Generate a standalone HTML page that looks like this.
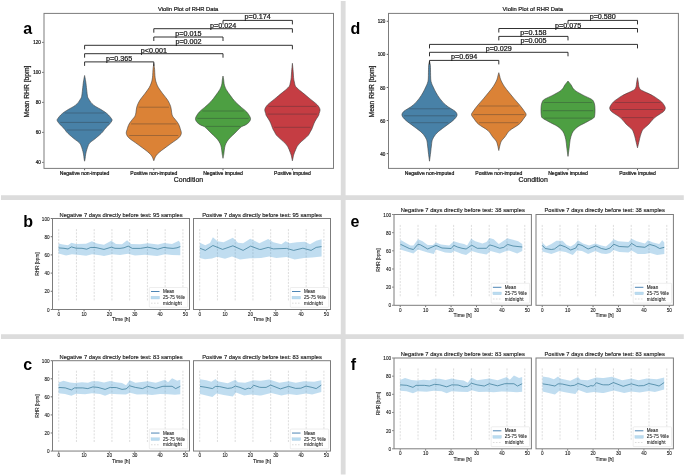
<!DOCTYPE html>
<html><head><meta charset="utf-8"><title>RHR figure</title>
<style>html,body{margin:0;padding:0;background:#fff;overflow:hidden;} svg{display:block;will-change:transform;} text{font-family:"Liberation Sans", sans-serif;}</style>
</head><body>
<svg width="685" height="475" viewBox="0 0 685 475" font-family='"Liberation Sans", sans-serif' fill="#1a1a1a">
<rect x="0" y="0" width="685" height="475" fill="#ffffff" />
<path d="M340.8,1 H345.6 V195.2 H683.8 V200.1 H345.6 V334.2 H683.8 V339 H345.6 V474.5 H340.8 V339 H1 V334.2 H340.8 V200.1 H1 V195.2 H340.8 Z" fill="#dcdcdc"/>
<path d="M84.6,75.5 C84.77,76.38 85.33,79.17 85.6,80.8 C85.87,82.43 86.02,83.77 86.2,85.3 C86.38,86.83 86.48,88.17 86.7,90 C86.92,91.83 87.22,94.88 87.5,96.3 C87.78,97.72 88,97.73 88.4,98.5 C88.8,99.27 89.3,100.03 89.9,100.9 C90.5,101.77 91.05,102.77 92,103.7 C92.95,104.63 94.17,105.57 95.6,106.5 C97.03,107.43 99.03,108.37 100.6,109.3 C102.17,110.23 103.68,111.15 105,112.1 C106.32,113.05 107.42,113.9 108.5,115 C109.58,116.1 110.92,117.77 111.5,118.7 C112.08,119.63 112.27,119.77 112,120.6 C111.73,121.43 110.72,122.72 109.9,123.7 C109.08,124.68 107.98,125.57 107.1,126.5 C106.22,127.43 105.37,128.37 104.6,129.3 C103.83,130.23 103.35,131.15 102.5,132.1 C101.65,133.05 100.55,134.05 99.5,135 C98.45,135.95 97.12,137.03 96.2,137.8 C95.28,138.57 95.07,138.77 94,139.6 C92.93,140.43 90.77,141.8 89.8,142.8 C88.83,143.8 88.68,144.52 88.2,145.6 C87.72,146.68 87.32,147.9 86.9,149.3 C86.48,150.7 86,152.43 85.7,154 C85.4,155.57 85.28,157.5 85.1,158.7 C84.92,159.9 84.68,160.78 84.6,161.2 C84.52,160.78 84.28,159.9 84.1,158.7 C83.92,157.5 83.8,155.57 83.5,154 C83.2,152.43 82.72,150.7 82.3,149.3 C81.88,147.9 81.48,146.68 81,145.6 C80.52,144.52 80.37,143.8 79.4,142.8 C78.43,141.8 76.27,140.43 75.2,139.6 C74.13,138.77 73.92,138.57 73,137.8 C72.08,137.03 70.75,135.95 69.7,135 C68.65,134.05 67.55,133.05 66.7,132.1 C65.85,131.15 65.37,130.23 64.6,129.3 C63.83,128.37 62.98,127.43 62.1,126.5 C61.22,125.57 60.12,124.68 59.3,123.7 C58.48,122.72 57.47,121.43 57.2,120.6 C56.93,119.77 57.12,119.63 57.7,118.7 C58.28,117.77 59.62,116.1 60.7,115 C61.78,113.9 62.88,113.05 64.2,112.1 C65.52,111.15 67.03,110.23 68.6,109.3 C70.17,108.37 72.17,107.43 73.6,106.5 C75.03,105.57 76.25,104.63 77.2,103.7 C78.15,102.77 78.7,101.77 79.3,100.9 C79.9,100.03 80.4,99.27 80.8,98.5 C81.2,97.73 81.42,97.72 81.7,96.3 C81.98,94.88 82.28,91.83 82.5,90 C82.72,88.17 82.82,86.83 83,85.3 C83.18,83.77 83.33,82.43 83.6,80.8 C83.87,79.17 84.43,76.38 84.6,75.5 Z" fill="#4881a7" stroke="#404040" stroke-width="0.6" stroke-linejoin="round"/>
<line x1="64.91" y1="113" x2="104.29" y2="113" stroke="#2a2f35" stroke-width="0.65" stroke-opacity="0.5"/>
<line x1="60.22" y1="122.4" x2="108.98" y2="122.4" stroke="#2a2f35" stroke-width="0.65" stroke-opacity="0.55"/>
<line x1="66.92" y1="130" x2="102.28" y2="130" stroke="#2a2f35" stroke-width="0.65" stroke-opacity="0.5"/>
<path d="M153.8,63.5 C153.93,64.48 154.42,67.43 154.6,69.4 C154.78,71.37 154.75,73.53 154.9,75.3 C155.05,77.07 155.22,78.62 155.5,80 C155.78,81.38 156.12,82.33 156.6,83.6 C157.08,84.87 157.35,85.88 158.4,87.6 C159.45,89.32 161.33,91.78 162.9,93.9 C164.47,96.02 166.5,98.18 167.8,100.3 C169.1,102.42 170.05,104.5 170.7,106.6 C171.35,108.7 171.37,111.28 171.7,112.9 C172.03,114.52 172.15,115.25 172.7,116.3 C173.25,117.35 174.18,118.15 175,119.2 C175.82,120.25 176.9,121.55 177.6,122.6 C178.3,123.65 178.75,124.45 179.2,125.5 C179.65,126.55 179.95,127.58 180.3,128.9 C180.65,130.22 181.55,131.92 181.3,133.4 C181.05,134.88 180.35,136.23 178.8,137.8 C177.25,139.37 174.3,141.12 172,142.8 C169.7,144.48 167.23,146.22 165,147.9 C162.77,149.58 160.17,151.47 158.6,152.9 C157.03,154.33 156.4,155.2 155.6,156.5 C154.8,157.8 154.1,160 153.8,160.7 C153.5,160 152.8,157.8 152,156.5 C151.2,155.2 150.57,154.33 149,152.9 C147.43,151.47 144.83,149.58 142.6,147.9 C140.37,146.22 137.9,144.48 135.6,142.8 C133.3,141.12 130.35,139.37 128.8,137.8 C127.25,136.23 126.55,134.88 126.3,133.4 C126.05,131.92 126.95,130.22 127.3,128.9 C127.65,127.58 127.95,126.55 128.4,125.5 C128.85,124.45 129.3,123.65 130,122.6 C130.7,121.55 131.78,120.25 132.6,119.2 C133.42,118.15 134.35,117.35 134.9,116.3 C135.45,115.25 135.57,114.52 135.9,112.9 C136.23,111.28 136.25,108.7 136.9,106.6 C137.55,104.5 138.5,102.42 139.8,100.3 C141.1,98.18 143.13,96.02 144.7,93.9 C146.27,91.78 148.15,89.32 149.2,87.6 C150.25,85.88 150.52,84.87 151,83.6 C151.48,82.33 151.82,81.38 152.1,80 C152.38,78.62 152.55,77.07 152.7,75.3 C152.85,73.53 152.82,71.37 153,69.4 C153.18,67.43 153.67,64.48 153.8,63.5 Z" fill="#db8236" stroke="#404040" stroke-width="0.6" stroke-linejoin="round"/>
<line x1="138.6" y1="107.2" x2="169" y2="107.2" stroke="#2a2f35" stroke-width="0.65" stroke-opacity="0.5"/>
<line x1="131.08" y1="123.9" x2="176.52" y2="123.9" stroke="#2a2f35" stroke-width="0.65" stroke-opacity="0.55"/>
<line x1="129.29" y1="135.5" x2="178.31" y2="135.5" stroke="#2a2f35" stroke-width="0.65" stroke-opacity="0.5"/>
<path d="M223,76 C223.12,76.67 223.52,78.7 223.7,80 C223.88,81.3 223.9,82.72 224.1,83.8 C224.3,84.88 224.53,85.52 224.9,86.5 C225.27,87.48 225.38,88.18 226.3,89.7 C227.22,91.22 228.95,93.63 230.4,95.6 C231.85,97.57 233.17,99.53 235,101.5 C236.83,103.47 239.43,105.63 241.4,107.4 C243.37,109.17 245.28,110.28 246.8,112.1 C248.32,113.92 250.17,116.57 250.5,118.3 C250.83,120.03 249.72,121.35 248.8,122.5 C247.88,123.65 246.22,124.5 245,125.2 C243.78,125.9 242.83,125.75 241.5,126.7 C240.17,127.65 238.47,129.48 237,130.9 C235.53,132.32 234.12,133.78 232.7,135.2 C231.28,136.62 229.63,138 228.5,139.4 C227.37,140.8 226.55,142.2 225.9,143.6 C225.25,145 224.95,146.05 224.6,147.8 C224.25,149.55 224.07,152.35 223.8,154.1 C223.53,155.85 223.13,157.6 223,158.3 C222.87,157.6 222.47,155.85 222.2,154.1 C221.93,152.35 221.75,149.55 221.4,147.8 C221.05,146.05 220.75,145 220.1,143.6 C219.45,142.2 218.63,140.8 217.5,139.4 C216.37,138 214.72,136.62 213.3,135.2 C211.88,133.78 210.47,132.32 209,130.9 C207.53,129.48 205.83,127.65 204.5,126.7 C203.17,125.75 202.22,125.9 201,125.2 C199.78,124.5 198.12,123.65 197.2,122.5 C196.28,121.35 195.17,120.03 195.5,118.3 C195.83,116.57 197.68,113.92 199.2,112.1 C200.72,110.28 202.63,109.17 204.6,107.4 C206.57,105.63 209.17,103.47 211,101.5 C212.83,99.53 214.15,97.57 215.6,95.6 C217.05,93.63 218.78,91.22 219.7,89.7 C220.62,88.18 220.73,87.48 221.1,86.5 C221.47,85.52 221.7,84.88 221.9,83.8 C222.1,82.72 222.12,81.3 222.3,80 C222.48,78.7 222.88,76.67 223,76 Z" fill="#4d9f42" stroke="#404040" stroke-width="0.6" stroke-linejoin="round"/>
<line x1="202.26" y1="111" x2="243.74" y2="111" stroke="#2a2f35" stroke-width="0.65" stroke-opacity="0.5"/>
<line x1="197.34" y1="118.4" x2="248.66" y2="118.4" stroke="#2a2f35" stroke-width="0.65" stroke-opacity="0.55"/>
<line x1="205.6" y1="126.4" x2="240.4" y2="126.4" stroke="#2a2f35" stroke-width="0.65" stroke-opacity="0.5"/>
<path d="M292.4,63.3 C292.53,64.72 293,69.4 293.2,71.8 C293.4,74.2 293.45,76.17 293.6,77.7 C293.75,79.23 293.92,80.02 294.1,81 C294.28,81.98 294.47,82.72 294.7,83.6 C294.93,84.48 294.83,85.32 295.5,86.3 C296.17,87.28 297.53,88.45 298.7,89.5 C299.87,90.55 300.6,91.03 302.5,92.6 C304.4,94.17 307.65,96.87 310.1,98.9 C312.55,100.93 315.55,103.03 317.2,104.8 C318.85,106.57 319.7,108 320,109.5 C320.3,111 319.23,112.82 319,113.8 C318.77,114.78 319.3,114.08 318.6,115.4 C317.9,116.72 315.92,119.45 314.8,121.7 C313.68,123.95 312.67,127.18 311.9,128.9 C311.13,130.62 310.8,130.93 310.2,132 C309.6,133.07 309.18,134.22 308.3,135.3 C307.42,136.38 306.05,137.45 304.9,138.5 C303.75,139.55 302.48,140.55 301.4,141.6 C300.32,142.65 299.23,143.75 298.4,144.8 C297.57,145.85 297.15,146.33 296.4,147.9 C295.65,149.47 294.45,152.6 293.9,154.2 C293.35,155.8 293.35,156.4 293.1,157.5 C292.85,158.6 292.52,160.25 292.4,160.8 C292.28,160.25 291.95,158.6 291.7,157.5 C291.45,156.4 291.45,155.8 290.9,154.2 C290.35,152.6 289.15,149.47 288.4,147.9 C287.65,146.33 287.23,145.85 286.4,144.8 C285.57,143.75 284.48,142.65 283.4,141.6 C282.32,140.55 281.05,139.55 279.9,138.5 C278.75,137.45 277.38,136.38 276.5,135.3 C275.62,134.22 275.2,133.07 274.6,132 C274,130.93 273.67,130.62 272.9,128.9 C272.13,127.18 271.12,123.95 270,121.7 C268.88,119.45 266.9,116.72 266.2,115.4 C265.5,114.08 266.03,114.78 265.8,113.8 C265.57,112.82 264.5,111 264.8,109.5 C265.1,108 265.95,106.57 267.6,104.8 C269.25,103.03 272.25,100.93 274.7,98.9 C277.15,96.87 280.4,94.17 282.3,92.6 C284.2,91.03 284.93,90.55 286.1,89.5 C287.27,88.45 288.63,87.28 289.3,86.3 C289.97,85.32 289.87,84.48 290.1,83.6 C290.33,82.72 290.52,81.98 290.7,81 C290.88,80.02 291.05,79.23 291.2,77.7 C291.35,76.17 291.4,74.2 291.6,71.8 C291.8,69.4 292.27,64.72 292.4,63.3 Z" fill="#c53d43" stroke="#404040" stroke-width="0.6" stroke-linejoin="round"/>
<line x1="268.45" y1="106.4" x2="316.35" y2="106.4" stroke="#2a2f35" stroke-width="0.65" stroke-opacity="0.5"/>
<line x1="267.67" y1="114.1" x2="317.12" y2="114.1" stroke="#2a2f35" stroke-width="0.65" stroke-opacity="0.55"/>
<line x1="274.06" y1="127.3" x2="310.74" y2="127.3" stroke="#2a2f35" stroke-width="0.65" stroke-opacity="0.5"/>
<rect x="44" y="13.4" width="289.5" height="155" fill="none" stroke="#7c7c7c" stroke-width="1" />
<line x1="42.2" y1="162.4" x2="43.5" y2="162.4" stroke="#333333" stroke-width="0.8" />
<text x="40.8" y="164" font-size="5" text-anchor="end" stroke="#1a1a1a" stroke-width="0.22" textLength="5.1" lengthAdjust="spacingAndGlyphs">40</text>
<line x1="42.2" y1="132.4" x2="43.5" y2="132.4" stroke="#333333" stroke-width="0.8" />
<text x="40.8" y="134" font-size="5" text-anchor="end" stroke="#1a1a1a" stroke-width="0.22" textLength="5.1" lengthAdjust="spacingAndGlyphs">60</text>
<line x1="42.2" y1="102.4" x2="43.5" y2="102.4" stroke="#333333" stroke-width="0.8" />
<text x="40.8" y="104" font-size="5" text-anchor="end" stroke="#1a1a1a" stroke-width="0.22" textLength="5.1" lengthAdjust="spacingAndGlyphs">80</text>
<line x1="42.2" y1="72.4" x2="43.5" y2="72.4" stroke="#333333" stroke-width="0.8" />
<text x="40.8" y="74" font-size="5" text-anchor="end" stroke="#1a1a1a" stroke-width="0.22" textLength="7.6" lengthAdjust="spacingAndGlyphs">100</text>
<line x1="42.2" y1="42.4" x2="43.5" y2="42.4" stroke="#333333" stroke-width="0.8" />
<text x="40.8" y="44" font-size="5" text-anchor="end" stroke="#1a1a1a" stroke-width="0.22" textLength="7.6" lengthAdjust="spacingAndGlyphs">120</text>
<line x1="84.6" y1="168.9" x2="84.6" y2="170.2" stroke="#333333" stroke-width="0.8" />
<text x="84.6" y="174.7" font-size="4.8" text-anchor="middle" stroke="#1a1a1a" stroke-width="0.22" textLength="49.5" lengthAdjust="spacingAndGlyphs">Negative non-imputed</text>
<line x1="153.8" y1="168.9" x2="153.8" y2="170.2" stroke="#333333" stroke-width="0.8" />
<text x="153.8" y="174.7" font-size="4.8" text-anchor="middle" stroke="#1a1a1a" stroke-width="0.22" textLength="47" lengthAdjust="spacingAndGlyphs">Positive non-imputed</text>
<line x1="223" y1="168.9" x2="223" y2="170.2" stroke="#333333" stroke-width="0.8" />
<text x="223" y="174.7" font-size="4.8" text-anchor="middle" stroke="#1a1a1a" stroke-width="0.22" textLength="39.7" lengthAdjust="spacingAndGlyphs">Negative imputed</text>
<line x1="292.4" y1="168.9" x2="292.4" y2="170.2" stroke="#333333" stroke-width="0.8" />
<text x="292.4" y="174.7" font-size="4.8" text-anchor="middle" stroke="#1a1a1a" stroke-width="0.22" textLength="36.7" lengthAdjust="spacingAndGlyphs">Positive imputed</text>
<text x="188.45" y="181.9" font-size="6.8" text-anchor="middle" stroke="#1a1a1a" stroke-width="0.22" textLength="29.3" lengthAdjust="spacingAndGlyphs">Condition</text>
<text x="188.1" y="10.9" font-size="6" text-anchor="middle" stroke="#1a1a1a" stroke-width="0.22" textLength="60.4" lengthAdjust="spacingAndGlyphs">Violin Plot of RHR Data</text>
<text x="29.2" y="91.5" font-size="6.6" text-anchor="middle" stroke="#1a1a1a" stroke-width="0.22" textLength="51.9" lengthAdjust="spacingAndGlyphs" transform="rotate(-90 29.2 91.5)">Mean RHR [bpm]</text>
<path d="M223,24.4 L223,20.4 L292.4,20.4 L292.4,24.4" fill="none" stroke="#262626" stroke-width="0.95"/>
<text x="257.7" y="19.4" font-size="6.3" text-anchor="middle" stroke="#1a1a1a" stroke-width="0.22" textLength="26.2" lengthAdjust="spacingAndGlyphs">p=0.174</text>
<path d="M153.8,32.7 L153.8,28.7 L292.4,28.7 L292.4,32.7" fill="none" stroke="#262626" stroke-width="0.95"/>
<text x="223.1" y="27.7" font-size="6.3" text-anchor="middle" stroke="#1a1a1a" stroke-width="0.22" textLength="26.2" lengthAdjust="spacingAndGlyphs">p=0.024</text>
<path d="M153.8,41 L153.8,37 L223,37 L223,41" fill="none" stroke="#262626" stroke-width="0.95"/>
<text x="188.4" y="36" font-size="6.3" text-anchor="middle" stroke="#1a1a1a" stroke-width="0.22" textLength="26.2" lengthAdjust="spacingAndGlyphs">p=0.015</text>
<path d="M84.6,49.3 L84.6,45.3 L292.4,45.3 L292.4,49.3" fill="none" stroke="#262626" stroke-width="0.95"/>
<text x="188.5" y="44.3" font-size="6.3" text-anchor="middle" stroke="#1a1a1a" stroke-width="0.22" textLength="26.2" lengthAdjust="spacingAndGlyphs">p=0.002</text>
<path d="M84.6,57.7 L84.6,53.7 L223,53.7 L223,57.7" fill="none" stroke="#262626" stroke-width="0.95"/>
<text x="153.8" y="52.7" font-size="6.3" text-anchor="middle" stroke="#1a1a1a" stroke-width="0.22" textLength="26.2" lengthAdjust="spacingAndGlyphs">p&lt;0.001</text>
<path d="M84.6,65.9 L84.6,61.9 L153.8,61.9 L153.8,65.9" fill="none" stroke="#262626" stroke-width="0.95"/>
<text x="119.2" y="60.9" font-size="6.3" text-anchor="middle" stroke="#1a1a1a" stroke-width="0.22" textLength="26.2" lengthAdjust="spacingAndGlyphs">p=0.365</text>
<text x="23.3" y="33.6" font-size="16" fill="#000" font-weight="bold">a</text>
<path d="M429.5,61 C429.63,61.68 430.13,63.63 430.3,65.1 C430.47,66.57 430.45,68.03 430.5,69.8 C430.55,71.57 430.55,74 430.6,75.7 C430.65,77.4 430.65,78.78 430.8,80 C430.95,81.22 431.15,81.95 431.5,83 C431.85,84.05 432.15,84.7 432.9,86.3 C433.65,87.9 434.8,90.5 436,92.6 C437.2,94.7 438.43,96.78 440.1,98.9 C441.77,101.02 444.13,103.65 446,105.3 C447.87,106.95 449.73,107.75 451.3,108.8 C452.87,109.85 454.45,110.5 455.4,111.6 C456.35,112.7 457.38,113.93 457,115.4 C456.62,116.87 455.13,118.52 453.1,120.4 C451.07,122.28 447.5,124.6 444.8,126.7 C442.1,128.8 438.93,130.9 436.9,133 C434.87,135.1 433.5,137.3 432.6,139.3 C431.7,141.3 431.82,142.88 431.5,145 C431.18,147.12 431.03,149.3 430.7,152 C430.37,154.7 429.7,159.67 429.5,161.2 C429.3,159.67 428.63,154.7 428.3,152 C427.97,149.3 427.82,147.12 427.5,145 C427.18,142.88 427.3,141.3 426.4,139.3 C425.5,137.3 424.13,135.1 422.1,133 C420.07,130.9 416.9,128.8 414.2,126.7 C411.5,124.6 407.93,122.28 405.9,120.4 C403.87,118.52 402.38,116.87 402,115.4 C401.62,113.93 402.65,112.7 403.6,111.6 C404.55,110.5 406.13,109.85 407.7,108.8 C409.27,107.75 411.13,106.95 413,105.3 C414.87,103.65 417.23,101.02 418.9,98.9 C420.57,96.78 421.8,94.7 423,92.6 C424.2,90.5 425.35,87.9 426.1,86.3 C426.85,84.7 427.15,84.05 427.5,83 C427.85,81.95 428.05,81.22 428.2,80 C428.35,78.78 428.35,77.4 428.4,75.7 C428.45,74 428.45,71.57 428.5,69.8 C428.55,68.03 428.53,66.57 428.7,65.1 C428.87,63.63 429.37,61.68 429.5,61 Z" fill="#4881a7" stroke="#404040" stroke-width="0.6" stroke-linejoin="round"/>
<line x1="409.5" y1="108.8" x2="449.5" y2="108.8" stroke="#2a2f35" stroke-width="0.65" stroke-opacity="0.5"/>
<line x1="404.11" y1="115.8" x2="454.89" y2="115.8" stroke="#2a2f35" stroke-width="0.65" stroke-opacity="0.55"/>
<line x1="410.73" y1="122.7" x2="448.27" y2="122.7" stroke="#2a2f35" stroke-width="0.65" stroke-opacity="0.5"/>
<path d="M498.8,72.7 C498.95,73.25 499.37,74.78 499.7,76 C500.03,77.22 500.05,78.28 500.8,80 C501.55,81.72 502.82,84.2 504.2,86.3 C505.58,88.4 507.42,90.5 509.1,92.6 C510.78,94.7 512.5,96.78 514.3,98.9 C516.1,101.02 518.18,103.18 519.9,105.3 C521.62,107.42 523.57,110.03 524.6,111.6 C525.63,113.17 526.17,113.65 526.1,114.7 C526.03,115.75 525.37,116.32 524.2,117.9 C523.03,119.48 521.52,122.1 519.1,124.2 C516.68,126.3 512.05,128.4 509.7,130.5 C507.35,132.6 506.38,135.05 505,136.8 C503.62,138.55 502.23,139.63 501.4,141 C500.57,142.37 500.43,143.42 500,145 C499.57,146.58 499,149.58 498.8,150.5 C498.6,149.58 498.03,146.58 497.6,145 C497.17,143.42 497.03,142.37 496.2,141 C495.37,139.63 493.98,138.55 492.6,136.8 C491.22,135.05 490.25,132.6 487.9,130.5 C485.55,128.4 480.92,126.3 478.5,124.2 C476.08,122.1 474.57,119.48 473.4,117.9 C472.23,116.32 471.57,115.75 471.5,114.7 C471.43,113.65 471.97,113.17 473,111.6 C474.03,110.03 475.98,107.42 477.7,105.3 C479.42,103.18 481.5,101.02 483.3,98.9 C485.1,96.78 486.82,94.7 488.5,92.6 C490.18,90.5 492.02,88.4 493.4,86.3 C494.78,84.2 496.05,81.72 496.8,80 C497.55,78.28 497.57,77.22 497.9,76 C498.23,74.78 498.65,73.25 498.8,72.7 Z" fill="#db8236" stroke="#404040" stroke-width="0.6" stroke-linejoin="round"/>
<line x1="478.98" y1="106" x2="518.62" y2="106" stroke="#2a2f35" stroke-width="0.65" stroke-opacity="0.5"/>
<line x1="473.35" y1="114.6" x2="524.25" y2="114.6" stroke="#2a2f35" stroke-width="0.65" stroke-opacity="0.55"/>
<line x1="479.09" y1="122.7" x2="518.51" y2="122.7" stroke="#2a2f35" stroke-width="0.65" stroke-opacity="0.5"/>
<path d="M568,81 C568.2,81.25 568.7,81.87 569.2,82.5 C569.7,83.13 570.12,83.55 571,84.8 C571.88,86.05 572.63,88.35 574.5,90 C576.37,91.65 579.37,93.15 582.2,94.7 C585.03,96.25 589.57,98.08 591.5,99.3 C593.43,100.52 593.25,100.88 593.8,102 C594.35,103.12 594.6,104.45 594.8,106 C595,107.55 595.03,109.63 595,111.3 C594.97,112.97 594.83,114.88 594.6,116 C594.37,117.12 594.4,117.28 593.6,118 C592.8,118.72 591.17,119.52 589.8,120.3 C588.43,121.08 586.9,121.92 585.4,122.7 C583.9,123.48 582.2,124.22 580.8,125 C579.4,125.78 578.08,126.57 577,127.4 C575.92,128.23 575.13,128.98 574.3,130 C573.47,131.02 572.68,131.9 572,133.5 C571.32,135.1 570.68,137.12 570.2,139.6 C569.72,142.08 569.47,145.6 569.1,148.4 C568.73,151.2 568.18,155.07 568,156.4 C567.82,155.07 567.27,151.2 566.9,148.4 C566.53,145.6 566.28,142.08 565.8,139.6 C565.32,137.12 564.68,135.1 564,133.5 C563.32,131.9 562.53,131.02 561.7,130 C560.87,128.98 560.08,128.23 559,127.4 C557.92,126.57 556.6,125.78 555.2,125 C553.8,124.22 552.1,123.48 550.6,122.7 C549.1,121.92 547.57,121.08 546.2,120.3 C544.83,119.52 543.2,118.72 542.4,118 C541.6,117.28 541.63,117.12 541.4,116 C541.17,114.88 541.03,112.97 541,111.3 C540.97,109.63 541,107.55 541.2,106 C541.4,104.45 541.65,103.12 542.2,102 C542.75,100.88 542.57,100.52 544.5,99.3 C546.43,98.08 550.97,96.25 553.8,94.7 C556.63,93.15 559.63,91.65 561.5,90 C563.37,88.35 564.12,86.05 565,84.8 C565.88,83.55 566.3,83.13 566.8,82.5 C567.3,81.87 567.8,81.25 568,81 Z" fill="#4d9f42" stroke="#404040" stroke-width="0.6" stroke-linejoin="round"/>
<line x1="543.88" y1="102.5" x2="592.12" y2="102.5" stroke="#2a2f35" stroke-width="0.65" stroke-opacity="0.5"/>
<line x1="542.82" y1="110.7" x2="593.18" y2="110.7" stroke="#2a2f35" stroke-width="0.65" stroke-opacity="0.55"/>
<line x1="544.37" y1="118.1" x2="591.63" y2="118.1" stroke="#2a2f35" stroke-width="0.65" stroke-opacity="0.5"/>
<path d="M637.5,77.7 C637.65,78.55 638.18,81.37 638.4,82.8 C638.62,84.23 638.62,85.43 638.8,86.3 C638.98,87.17 639.25,87.47 639.5,88 C639.75,88.53 639.72,89 640.3,89.5 C640.88,90 641.98,90.48 643,91 C644.02,91.52 644.82,91.85 646.4,92.6 C647.98,93.35 650.62,94.45 652.5,95.5 C654.38,96.55 656.17,97.82 657.7,98.9 C659.23,99.98 660.62,100.93 661.7,102 C662.78,103.07 663.6,104.23 664.2,105.3 C664.8,106.37 665.42,107.35 665.3,108.4 C665.18,109.45 664.38,110.67 663.5,111.6 C662.62,112.53 661.23,113.17 660,114 C658.77,114.83 657.45,115.53 656.1,116.6 C654.75,117.67 653.12,119.13 651.9,120.4 C650.68,121.67 649.9,123.05 648.8,124.2 C647.7,125.35 646.38,126.25 645.3,127.3 C644.22,128.35 643.17,128.92 642.3,130.5 C641.43,132.08 640.63,135.05 640.1,136.8 C639.57,138.55 639.53,139.17 639.1,141 C638.67,142.83 637.77,146.67 637.5,147.8 C637.23,146.67 636.33,142.83 635.9,141 C635.47,139.17 635.43,138.55 634.9,136.8 C634.37,135.05 633.57,132.08 632.7,130.5 C631.83,128.92 630.78,128.35 629.7,127.3 C628.62,126.25 627.3,125.35 626.2,124.2 C625.1,123.05 624.32,121.67 623.1,120.4 C621.88,119.13 620.25,117.67 618.9,116.6 C617.55,115.53 616.23,114.83 615,114 C613.77,113.17 612.38,112.53 611.5,111.6 C610.62,110.67 609.82,109.45 609.7,108.4 C609.58,107.35 610.2,106.37 610.8,105.3 C611.4,104.23 612.22,103.07 613.3,102 C614.38,100.93 615.77,99.98 617.3,98.9 C618.83,97.82 620.62,96.55 622.5,95.5 C624.38,94.45 627.02,93.35 628.6,92.6 C630.18,91.85 630.98,91.52 632,91 C633.02,90.48 634.12,90 634.7,89.5 C635.28,89 635.25,88.53 635.5,88 C635.75,87.47 636.02,87.17 636.2,86.3 C636.38,85.43 636.38,84.23 636.6,82.8 C636.82,81.37 637.35,78.55 637.5,77.7 Z" fill="#c53d43" stroke="#404040" stroke-width="0.6" stroke-linejoin="round"/>
<line x1="614.72" y1="102.5" x2="660.28" y2="102.5" stroke="#2a2f35" stroke-width="0.65" stroke-opacity="0.5"/>
<line x1="612.12" y1="109.5" x2="662.88" y2="109.5" stroke="#2a2f35" stroke-width="0.65" stroke-opacity="0.55"/>
<line x1="621.81" y1="117.6" x2="653.19" y2="117.6" stroke="#2a2f35" stroke-width="0.65" stroke-opacity="0.5"/>
<rect x="388.5" y="13.4" width="289.9" height="155" fill="none" stroke="#7c7c7c" stroke-width="1" />
<line x1="386.7" y1="153.6" x2="388" y2="153.6" stroke="#333333" stroke-width="0.8" />
<text x="385.3" y="155.7" font-size="5" text-anchor="end" stroke="#1a1a1a" stroke-width="0.22" textLength="5.1" lengthAdjust="spacingAndGlyphs">40</text>
<line x1="386.7" y1="120.52" x2="388" y2="120.52" stroke="#333333" stroke-width="0.8" />
<text x="385.3" y="122.62" font-size="5" text-anchor="end" stroke="#1a1a1a" stroke-width="0.22" textLength="5.1" lengthAdjust="spacingAndGlyphs">60</text>
<line x1="386.7" y1="87.44" x2="388" y2="87.44" stroke="#333333" stroke-width="0.8" />
<text x="385.3" y="89.54" font-size="5" text-anchor="end" stroke="#1a1a1a" stroke-width="0.22" textLength="5.1" lengthAdjust="spacingAndGlyphs">80</text>
<line x1="386.7" y1="54.36" x2="388" y2="54.36" stroke="#333333" stroke-width="0.8" />
<text x="385.3" y="56.46" font-size="5" text-anchor="end" stroke="#1a1a1a" stroke-width="0.22" textLength="7.6" lengthAdjust="spacingAndGlyphs">100</text>
<line x1="386.7" y1="21.28" x2="388" y2="21.28" stroke="#333333" stroke-width="0.8" />
<text x="385.3" y="23.38" font-size="5" text-anchor="end" stroke="#1a1a1a" stroke-width="0.22" textLength="7.6" lengthAdjust="spacingAndGlyphs">120</text>
<line x1="429.5" y1="168.9" x2="429.5" y2="170.2" stroke="#333333" stroke-width="0.8" />
<text x="429.5" y="174.7" font-size="4.8" text-anchor="middle" stroke="#1a1a1a" stroke-width="0.22" textLength="49.5" lengthAdjust="spacingAndGlyphs">Negative non-imputed</text>
<line x1="498.8" y1="168.9" x2="498.8" y2="170.2" stroke="#333333" stroke-width="0.8" />
<text x="498.8" y="174.7" font-size="4.8" text-anchor="middle" stroke="#1a1a1a" stroke-width="0.22" textLength="47" lengthAdjust="spacingAndGlyphs">Positive non-imputed</text>
<line x1="568" y1="168.9" x2="568" y2="170.2" stroke="#333333" stroke-width="0.8" />
<text x="568" y="174.7" font-size="4.8" text-anchor="middle" stroke="#1a1a1a" stroke-width="0.22" textLength="39.7" lengthAdjust="spacingAndGlyphs">Negative imputed</text>
<line x1="637.5" y1="168.9" x2="637.5" y2="170.2" stroke="#333333" stroke-width="0.8" />
<text x="637.5" y="174.7" font-size="4.8" text-anchor="middle" stroke="#1a1a1a" stroke-width="0.22" textLength="36.7" lengthAdjust="spacingAndGlyphs">Positive imputed</text>
<text x="533.15" y="181.9" font-size="6.8" text-anchor="middle" stroke="#1a1a1a" stroke-width="0.22" textLength="29.3" lengthAdjust="spacingAndGlyphs">Condition</text>
<text x="532.8" y="10.9" font-size="6" text-anchor="middle" stroke="#1a1a1a" stroke-width="0.22" textLength="60.4" lengthAdjust="spacingAndGlyphs">Violin Plot of RHR Data</text>
<text x="373.9" y="91.5" font-size="6.6" text-anchor="middle" stroke="#1a1a1a" stroke-width="0.22" textLength="51.9" lengthAdjust="spacingAndGlyphs" transform="rotate(-90 373.9 91.5)">Mean RHR [bpm]</text>
<path d="M568,24.4 L568,20.4 L637.5,20.4 L637.5,24.4" fill="none" stroke="#262626" stroke-width="0.95"/>
<text x="602.75" y="19.4" font-size="6.3" text-anchor="middle" stroke="#1a1a1a" stroke-width="0.22" textLength="26.2" lengthAdjust="spacingAndGlyphs">p=0.580</text>
<path d="M498.8,32.5 L498.8,28.5 L637.5,28.5 L637.5,32.5" fill="none" stroke="#262626" stroke-width="0.95"/>
<text x="568.15" y="27.5" font-size="6.3" text-anchor="middle" stroke="#1a1a1a" stroke-width="0.22" textLength="26.2" lengthAdjust="spacingAndGlyphs">p=0.075</text>
<path d="M498.8,40.4 L498.8,36.4 L568,36.4 L568,40.4" fill="none" stroke="#262626" stroke-width="0.95"/>
<text x="533.4" y="35.4" font-size="6.3" text-anchor="middle" stroke="#1a1a1a" stroke-width="0.22" textLength="26.2" lengthAdjust="spacingAndGlyphs">p=0.158</text>
<path d="M429.5,48.4 L429.5,44.4 L637.5,44.4 L637.5,48.4" fill="none" stroke="#262626" stroke-width="0.95"/>
<text x="533.5" y="43.4" font-size="6.3" text-anchor="middle" stroke="#1a1a1a" stroke-width="0.22" textLength="26.2" lengthAdjust="spacingAndGlyphs">p=0.005</text>
<path d="M429.5,56.3 L429.5,52.3 L568,52.3 L568,56.3" fill="none" stroke="#262626" stroke-width="0.95"/>
<text x="498.75" y="51.3" font-size="6.3" text-anchor="middle" stroke="#1a1a1a" stroke-width="0.22" textLength="26.2" lengthAdjust="spacingAndGlyphs">p=0.029</text>
<path d="M429.5,64.4 L429.5,60.4 L498.8,60.4 L498.8,64.4" fill="none" stroke="#262626" stroke-width="0.95"/>
<text x="464.15" y="59.4" font-size="6.3" text-anchor="middle" stroke="#1a1a1a" stroke-width="0.22" textLength="26.2" lengthAdjust="spacingAndGlyphs">p=0.694</text>
<text x="350.5" y="33.7" font-size="16" fill="#000" font-weight="bold">d</text>
<line x1="58.71" y1="300.4" x2="58.71" y2="228.06" stroke="#c6c6c6" stroke-width="0.6" stroke-dasharray="2,1.3"/>
<line x1="76.45" y1="300.4" x2="76.45" y2="228.06" stroke="#c6c6c6" stroke-width="0.6" stroke-dasharray="2,1.3"/>
<line x1="94.2" y1="300.4" x2="94.2" y2="228.06" stroke="#c6c6c6" stroke-width="0.6" stroke-dasharray="2,1.3"/>
<line x1="111.94" y1="300.4" x2="111.94" y2="228.06" stroke="#c6c6c6" stroke-width="0.6" stroke-dasharray="2,1.3"/>
<line x1="129.68" y1="300.4" x2="129.68" y2="228.06" stroke="#c6c6c6" stroke-width="0.6" stroke-dasharray="2,1.3"/>
<line x1="147.42" y1="300.4" x2="147.42" y2="228.06" stroke="#c6c6c6" stroke-width="0.6" stroke-dasharray="2,1.3"/>
<line x1="165.17" y1="300.4" x2="165.17" y2="228.06" stroke="#c6c6c6" stroke-width="0.6" stroke-dasharray="2,1.3"/>
<line x1="182.91" y1="300.4" x2="182.91" y2="228.06" stroke="#c6c6c6" stroke-width="0.6" stroke-dasharray="2,1.3"/>
<polygon points="58.6,243.5 63,244.5 68,245.2 71.4,242.8 76,244 86,243.8 91.9,241.2 97,243.5 104,244.8 111.3,240.7 116,244 122,244.3 127.1,240.2 131,244 140,244.2 148,243.3 158,244.5 164,243 172,244 178.8,240.7 180.3,243 180.3,255.3 172,255 165,254.3 157,256 145,254.8 135,255.4 128,253.8 120,255 112,254.3 104,256.1 100,255.3 92,254.2 86,255.8 80,255 72,254.3 66,255.4 58.6,253.6" fill="#1683c8" fill-opacity="0.27"/>
<polyline points="58.6,247.9 64,248.3 68,249 71.4,246.9 76,248.2 82,248.3 86.7,249.2 90.8,247.4 96,247.6 100,248.5 104,249.4 108,248.2 111.3,247.2 115,248.3 120,248.4 124,247.8 128.2,246.1 132.3,248.4 136,248.4 140.4,248.4 144,247.8 147.6,247.2 152,248 157.8,249.2 163.9,247.4 168,248 173.1,248.4 177,247.8 180.3,246.6" fill="none" stroke="#3a7b98" stroke-width="0.75" stroke-linejoin="round"/>
<rect x="149.3" y="287.5" width="38.4" height="19.8" fill="#ffffff" stroke="#dddddd" stroke-width="0.5" fill-opacity="0.85" rx="0.8"/>
<line x1="151" y1="291.5" x2="159.5" y2="291.5" stroke="#3a78ad" stroke-width="0.9" />
<rect x="151" y="296.2" width="8.5" height="2.8" fill="#badcf0" stroke="#a9c8e0" stroke-width="0.3" />
<line x1="151" y1="303.2" x2="159.5" y2="303.2" stroke="#c6c6c6" stroke-width="0.6" stroke-dasharray="1.6,1.4"/>
<text x="162.9" y="293.1" font-size="4.6" stroke="#1a1a1a" stroke-width="0.08" textLength="11.4" lengthAdjust="spacing">Mean</text>
<text x="162.9" y="299.1" font-size="4.6" stroke="#1a1a1a" stroke-width="0.08" textLength="22.2" lengthAdjust="spacing">25-75 %ile</text>
<text x="162.9" y="304.8" font-size="4.6" stroke="#1a1a1a" stroke-width="0.08" textLength="18.8" lengthAdjust="spacing">midnight</text>
<rect x="52.5" y="218.5" width="137" height="91" fill="none" stroke="#7c7c7c" stroke-width="1" />
<line x1="58.71" y1="310" x2="58.71" y2="311.3" stroke="#333333" stroke-width="0.7" />
<text x="58.71" y="315.9" font-size="4.7" text-anchor="middle" stroke="#1a1a1a" stroke-width="0.1" textLength="2.6" lengthAdjust="spacingAndGlyphs">0</text>
<line x1="84.06" y1="310" x2="84.06" y2="311.3" stroke="#333333" stroke-width="0.7" />
<text x="84.06" y="315.9" font-size="4.7" text-anchor="middle" stroke="#1a1a1a" stroke-width="0.1" textLength="5.2" lengthAdjust="spacingAndGlyphs">10</text>
<line x1="109.4" y1="310" x2="109.4" y2="311.3" stroke="#333333" stroke-width="0.7" />
<text x="109.4" y="315.9" font-size="4.7" text-anchor="middle" stroke="#1a1a1a" stroke-width="0.1" textLength="5.2" lengthAdjust="spacingAndGlyphs">20</text>
<line x1="134.75" y1="310" x2="134.75" y2="311.3" stroke="#333333" stroke-width="0.7" />
<text x="134.75" y="315.9" font-size="4.7" text-anchor="middle" stroke="#1a1a1a" stroke-width="0.1" textLength="5.2" lengthAdjust="spacingAndGlyphs">30</text>
<line x1="160.1" y1="310" x2="160.1" y2="311.3" stroke="#333333" stroke-width="0.7" />
<text x="160.1" y="315.9" font-size="4.7" text-anchor="middle" stroke="#1a1a1a" stroke-width="0.1" textLength="5.2" lengthAdjust="spacingAndGlyphs">40</text>
<line x1="185.44" y1="310" x2="185.44" y2="311.3" stroke="#333333" stroke-width="0.7" />
<text x="185.44" y="315.9" font-size="4.7" text-anchor="middle" stroke="#1a1a1a" stroke-width="0.1" textLength="5.2" lengthAdjust="spacingAndGlyphs">50</text>
<text x="121" y="321.4" font-size="4.8" text-anchor="middle" stroke="#1a1a1a" stroke-width="0.1" textLength="18.2" lengthAdjust="spacingAndGlyphs">Time [h]</text>
<text x="121" y="216.5" font-size="5.75" text-anchor="middle" stroke="#1a1a1a" stroke-width="0.14" textLength="123" lengthAdjust="spacing">Negative 7 days directly before test: 95 samples</text>
<line x1="199.71" y1="300.4" x2="199.71" y2="228.06" stroke="#c6c6c6" stroke-width="0.6" stroke-dasharray="2,1.3"/>
<line x1="217.45" y1="300.4" x2="217.45" y2="228.06" stroke="#c6c6c6" stroke-width="0.6" stroke-dasharray="2,1.3"/>
<line x1="235.2" y1="300.4" x2="235.2" y2="228.06" stroke="#c6c6c6" stroke-width="0.6" stroke-dasharray="2,1.3"/>
<line x1="252.94" y1="300.4" x2="252.94" y2="228.06" stroke="#c6c6c6" stroke-width="0.6" stroke-dasharray="2,1.3"/>
<line x1="270.68" y1="300.4" x2="270.68" y2="228.06" stroke="#c6c6c6" stroke-width="0.6" stroke-dasharray="2,1.3"/>
<line x1="288.42" y1="300.4" x2="288.42" y2="228.06" stroke="#c6c6c6" stroke-width="0.6" stroke-dasharray="2,1.3"/>
<line x1="306.17" y1="300.4" x2="306.17" y2="228.06" stroke="#c6c6c6" stroke-width="0.6" stroke-dasharray="2,1.3"/>
<line x1="323.91" y1="300.4" x2="323.91" y2="228.06" stroke="#c6c6c6" stroke-width="0.6" stroke-dasharray="2,1.3"/>
<polygon points="199.9,242.8 205.3,245.3 210,243 212.9,237.2 217.5,241.2 223.6,242.3 232.9,237.7 238,242.8 243.1,243.3 250.2,238.7 259.4,243.3 268.2,239 273.3,242.3 281.4,244.3 285.5,241.2 289.6,243.3 296.8,242.3 304.9,241.8 310,244.3 316.2,240.7 321.6,239.2 321.6,256.6 312.1,257.6 303.9,258.1 294.7,259.6 286.5,257.1 276.3,258.1 269.2,256.6 261,258.1 250,258.3 240,259.4 232,256.6 225,258.8 217,256.8 212,258.6 205,259.3 199.9,258.1" fill="#1683c8" fill-opacity="0.27"/>
<polyline points="199.9,248.2 205.3,250.4 212.9,245.5 222.6,249.4 232.9,245.8 243.1,250.4 250.7,246.1 259.4,249.4 261,249.4 268.2,247.4 273.3,248.9 286.5,248.4 293.7,250.4 302.9,248.2 311.1,250.4 316.2,247.4 321.6,246.6" fill="none" stroke="#3a7b98" stroke-width="0.75" stroke-linejoin="round"/>
<rect x="290.3" y="287.5" width="38.4" height="19.8" fill="#ffffff" stroke="#dddddd" stroke-width="0.5" fill-opacity="0.85" rx="0.8"/>
<line x1="292" y1="291.5" x2="300.5" y2="291.5" stroke="#3a78ad" stroke-width="0.9" />
<rect x="292" y="296.2" width="8.5" height="2.8" fill="#badcf0" stroke="#a9c8e0" stroke-width="0.3" />
<line x1="292" y1="303.2" x2="300.5" y2="303.2" stroke="#c6c6c6" stroke-width="0.6" stroke-dasharray="1.6,1.4"/>
<text x="303.9" y="293.1" font-size="4.6" stroke="#1a1a1a" stroke-width="0.08" textLength="11.4" lengthAdjust="spacing">Mean</text>
<text x="303.9" y="299.1" font-size="4.6" stroke="#1a1a1a" stroke-width="0.08" textLength="22.2" lengthAdjust="spacing">25-75 %ile</text>
<text x="303.9" y="304.8" font-size="4.6" stroke="#1a1a1a" stroke-width="0.08" textLength="18.8" lengthAdjust="spacing">midnight</text>
<rect x="193.5" y="218.5" width="137" height="91" fill="none" stroke="#7c7c7c" stroke-width="1" />
<line x1="199.71" y1="310" x2="199.71" y2="311.3" stroke="#333333" stroke-width="0.7" />
<text x="199.71" y="315.9" font-size="4.7" text-anchor="middle" stroke="#1a1a1a" stroke-width="0.1" textLength="2.6" lengthAdjust="spacingAndGlyphs">0</text>
<line x1="225.06" y1="310" x2="225.06" y2="311.3" stroke="#333333" stroke-width="0.7" />
<text x="225.06" y="315.9" font-size="4.7" text-anchor="middle" stroke="#1a1a1a" stroke-width="0.1" textLength="5.2" lengthAdjust="spacingAndGlyphs">10</text>
<line x1="250.4" y1="310" x2="250.4" y2="311.3" stroke="#333333" stroke-width="0.7" />
<text x="250.4" y="315.9" font-size="4.7" text-anchor="middle" stroke="#1a1a1a" stroke-width="0.1" textLength="5.2" lengthAdjust="spacingAndGlyphs">20</text>
<line x1="275.75" y1="310" x2="275.75" y2="311.3" stroke="#333333" stroke-width="0.7" />
<text x="275.75" y="315.9" font-size="4.7" text-anchor="middle" stroke="#1a1a1a" stroke-width="0.1" textLength="5.2" lengthAdjust="spacingAndGlyphs">30</text>
<line x1="301.1" y1="310" x2="301.1" y2="311.3" stroke="#333333" stroke-width="0.7" />
<text x="301.1" y="315.9" font-size="4.7" text-anchor="middle" stroke="#1a1a1a" stroke-width="0.1" textLength="5.2" lengthAdjust="spacingAndGlyphs">40</text>
<line x1="326.44" y1="310" x2="326.44" y2="311.3" stroke="#333333" stroke-width="0.7" />
<text x="326.44" y="315.9" font-size="4.7" text-anchor="middle" stroke="#1a1a1a" stroke-width="0.1" textLength="5.2" lengthAdjust="spacingAndGlyphs">50</text>
<text x="262" y="321.4" font-size="4.8" text-anchor="middle" stroke="#1a1a1a" stroke-width="0.1" textLength="18.2" lengthAdjust="spacingAndGlyphs">Time [h]</text>
<text x="262" y="216.5" font-size="5.75" text-anchor="middle" stroke="#1a1a1a" stroke-width="0.14" textLength="119.5" lengthAdjust="spacing">Positive 7 days directly before test: 95 samples</text>
<line x1="50.7" y1="309.5" x2="52" y2="309.5" stroke="#333333" stroke-width="0.7" />
<text x="49.7" y="311.5" font-size="4.7" text-anchor="end" stroke="#1a1a1a" stroke-width="0.1" textLength="2.6" lengthAdjust="spacingAndGlyphs">0</text>
<line x1="50.7" y1="291.3" x2="52" y2="291.3" stroke="#333333" stroke-width="0.7" />
<text x="49.7" y="293.3" font-size="4.7" text-anchor="end" stroke="#1a1a1a" stroke-width="0.1" textLength="5.2" lengthAdjust="spacingAndGlyphs">20</text>
<line x1="50.7" y1="273.1" x2="52" y2="273.1" stroke="#333333" stroke-width="0.7" />
<text x="49.7" y="275.1" font-size="4.7" text-anchor="end" stroke="#1a1a1a" stroke-width="0.1" textLength="5.2" lengthAdjust="spacingAndGlyphs">40</text>
<line x1="50.7" y1="254.9" x2="52" y2="254.9" stroke="#333333" stroke-width="0.7" />
<text x="49.7" y="256.9" font-size="4.7" text-anchor="end" stroke="#1a1a1a" stroke-width="0.1" textLength="5.2" lengthAdjust="spacingAndGlyphs">60</text>
<line x1="50.7" y1="236.7" x2="52" y2="236.7" stroke="#333333" stroke-width="0.7" />
<text x="49.7" y="238.7" font-size="4.7" text-anchor="end" stroke="#1a1a1a" stroke-width="0.1" textLength="5.2" lengthAdjust="spacingAndGlyphs">80</text>
<line x1="50.7" y1="218.5" x2="52" y2="218.5" stroke="#333333" stroke-width="0.7" />
<text x="49.7" y="220.5" font-size="4.7" text-anchor="end" stroke="#1a1a1a" stroke-width="0.1" textLength="7.9" lengthAdjust="spacingAndGlyphs">100</text>
<text x="38.6" y="264" font-size="4.5" text-anchor="middle" stroke="#1a1a1a" stroke-width="0.1" textLength="23" lengthAdjust="spacing" transform="rotate(-90 38.6 264)">RHR [bpm]</text>
<text x="23.2" y="226.6" font-size="16" fill="#000" font-weight="bold">b</text>
<line x1="58.71" y1="442.01" x2="58.71" y2="370.19" stroke="#c6c6c6" stroke-width="0.6" stroke-dasharray="2,1.3"/>
<line x1="76.45" y1="442.01" x2="76.45" y2="370.19" stroke="#c6c6c6" stroke-width="0.6" stroke-dasharray="2,1.3"/>
<line x1="94.2" y1="442.01" x2="94.2" y2="370.19" stroke="#c6c6c6" stroke-width="0.6" stroke-dasharray="2,1.3"/>
<line x1="111.94" y1="442.01" x2="111.94" y2="370.19" stroke="#c6c6c6" stroke-width="0.6" stroke-dasharray="2,1.3"/>
<line x1="129.68" y1="442.01" x2="129.68" y2="370.19" stroke="#c6c6c6" stroke-width="0.6" stroke-dasharray="2,1.3"/>
<line x1="147.42" y1="442.01" x2="147.42" y2="370.19" stroke="#c6c6c6" stroke-width="0.6" stroke-dasharray="2,1.3"/>
<line x1="165.17" y1="442.01" x2="165.17" y2="370.19" stroke="#c6c6c6" stroke-width="0.6" stroke-dasharray="2,1.3"/>
<line x1="182.91" y1="442.01" x2="182.91" y2="370.19" stroke="#c6c6c6" stroke-width="0.6" stroke-dasharray="2,1.3"/>
<polygon points="58.6,382.5 63.5,380.7 70,382.5 75,383 82,382.3 88,382.8 92,381.3 98,381.3 104,382.5 110,381 116,382.3 122,383 126.1,385.3 129.7,380.2 135.3,382.8 147.6,381.2 155.8,382.8 165,379.7 168,382.3 172.1,378.2 177.2,380.7 180.3,379.7 180.3,394.3 175,394.7 168,394.3 160,394.1 152,394.9 145,394.3 137,394.5 130,392.7 126,394.5 118,394.3 110,393.7 105.1,395.7 100,393.9 92,393.2 85,394.2 76,393.7 71.4,395.7 65,393.9 58.6,393.2" fill="#1683c8" fill-opacity="0.27"/>
<polyline points="58.6,387.4 65.3,387.9 71.4,389.9 74.5,387.9 82.7,387.9 87.8,388.6 92.9,386.9 98,387.4 105.1,389.4 110.2,387.4 116.4,387.6 122,389.4 126.1,388.9 129.7,385.8 135.3,387.4 142.5,388.6 147.6,386.3 155.8,388.4 162.9,386.3 172.1,386.3 175.7,388.6 180.3,386.3" fill="none" stroke="#3a7b98" stroke-width="0.75" stroke-linejoin="round"/>
<rect x="149.3" y="429.05" width="38.4" height="19.8" fill="#ffffff" stroke="#dddddd" stroke-width="0.5" fill-opacity="0.85" rx="0.8"/>
<line x1="151" y1="433.05" x2="159.5" y2="433.05" stroke="#3a78ad" stroke-width="0.9" />
<rect x="151" y="437.75" width="8.5" height="2.8" fill="#badcf0" stroke="#a9c8e0" stroke-width="0.3" />
<line x1="151" y1="444.75" x2="159.5" y2="444.75" stroke="#c6c6c6" stroke-width="0.6" stroke-dasharray="1.6,1.4"/>
<text x="162.9" y="434.65" font-size="4.6" stroke="#1a1a1a" stroke-width="0.08" textLength="11.4" lengthAdjust="spacing">Mean</text>
<text x="162.9" y="440.65" font-size="4.6" stroke="#1a1a1a" stroke-width="0.08" textLength="22.2" lengthAdjust="spacing">25-75 %ile</text>
<text x="162.9" y="446.35" font-size="4.6" stroke="#1a1a1a" stroke-width="0.08" textLength="18.8" lengthAdjust="spacing">midnight</text>
<rect x="52.5" y="360.7" width="137" height="90.35" fill="none" stroke="#7c7c7c" stroke-width="1" />
<line x1="58.71" y1="451.55" x2="58.71" y2="452.85" stroke="#333333" stroke-width="0.7" />
<text x="58.71" y="457.45" font-size="4.7" text-anchor="middle" stroke="#1a1a1a" stroke-width="0.1" textLength="2.6" lengthAdjust="spacingAndGlyphs">0</text>
<line x1="84.06" y1="451.55" x2="84.06" y2="452.85" stroke="#333333" stroke-width="0.7" />
<text x="84.06" y="457.45" font-size="4.7" text-anchor="middle" stroke="#1a1a1a" stroke-width="0.1" textLength="5.2" lengthAdjust="spacingAndGlyphs">10</text>
<line x1="109.4" y1="451.55" x2="109.4" y2="452.85" stroke="#333333" stroke-width="0.7" />
<text x="109.4" y="457.45" font-size="4.7" text-anchor="middle" stroke="#1a1a1a" stroke-width="0.1" textLength="5.2" lengthAdjust="spacingAndGlyphs">20</text>
<line x1="134.75" y1="451.55" x2="134.75" y2="452.85" stroke="#333333" stroke-width="0.7" />
<text x="134.75" y="457.45" font-size="4.7" text-anchor="middle" stroke="#1a1a1a" stroke-width="0.1" textLength="5.2" lengthAdjust="spacingAndGlyphs">30</text>
<line x1="160.1" y1="451.55" x2="160.1" y2="452.85" stroke="#333333" stroke-width="0.7" />
<text x="160.1" y="457.45" font-size="4.7" text-anchor="middle" stroke="#1a1a1a" stroke-width="0.1" textLength="5.2" lengthAdjust="spacingAndGlyphs">40</text>
<line x1="185.44" y1="451.55" x2="185.44" y2="452.85" stroke="#333333" stroke-width="0.7" />
<text x="185.44" y="457.45" font-size="4.7" text-anchor="middle" stroke="#1a1a1a" stroke-width="0.1" textLength="5.2" lengthAdjust="spacingAndGlyphs">50</text>
<text x="121" y="462.95" font-size="4.8" text-anchor="middle" stroke="#1a1a1a" stroke-width="0.1" textLength="18.2" lengthAdjust="spacingAndGlyphs">Time [h]</text>
<text x="121" y="358.7" font-size="5.75" text-anchor="middle" stroke="#1a1a1a" stroke-width="0.14" textLength="123" lengthAdjust="spacing">Negative 7 days directly before test: 83 samples</text>
<line x1="199.71" y1="442.01" x2="199.71" y2="370.19" stroke="#c6c6c6" stroke-width="0.6" stroke-dasharray="2,1.3"/>
<line x1="217.45" y1="442.01" x2="217.45" y2="370.19" stroke="#c6c6c6" stroke-width="0.6" stroke-dasharray="2,1.3"/>
<line x1="235.2" y1="442.01" x2="235.2" y2="370.19" stroke="#c6c6c6" stroke-width="0.6" stroke-dasharray="2,1.3"/>
<line x1="252.94" y1="442.01" x2="252.94" y2="370.19" stroke="#c6c6c6" stroke-width="0.6" stroke-dasharray="2,1.3"/>
<line x1="270.68" y1="442.01" x2="270.68" y2="370.19" stroke="#c6c6c6" stroke-width="0.6" stroke-dasharray="2,1.3"/>
<line x1="288.42" y1="442.01" x2="288.42" y2="370.19" stroke="#c6c6c6" stroke-width="0.6" stroke-dasharray="2,1.3"/>
<line x1="306.17" y1="442.01" x2="306.17" y2="370.19" stroke="#c6c6c6" stroke-width="0.6" stroke-dasharray="2,1.3"/>
<line x1="323.91" y1="442.01" x2="323.91" y2="370.19" stroke="#c6c6c6" stroke-width="0.6" stroke-dasharray="2,1.3"/>
<polygon points="200,379.2 206.3,380.2 211.4,381.8 215.5,379 217.5,381.2 227.7,383.3 235.4,379.7 238,382.3 245.1,382.8 253.3,380.2 259.4,380.7 261,380.7 269.2,379.4 279.4,382.8 288.6,381.2 295.7,382.8 303.9,381.2 314.1,381.8 321.3,380.2 321.3,392 312.1,394.5 306,393.5 296.8,395 288.6,394 281.4,395.5 271.2,393 261,395.5 259.4,395.5 251.2,394.5 244.1,395.5 235.9,392.5 232.8,396.6 223.7,395 216.5,393.5 212.4,397.1 200,394" fill="#1683c8" fill-opacity="0.27"/>
<polyline points="200,386.4 206,387.3 212.4,388.6 215.5,386.4 219.6,386.6 227.7,388.4 231.8,387.9 235.4,386.1 240,387.4 245.1,389.4 248.2,388.2 250.7,388.6 253.8,385.3 259.4,387.2 261,387.4 266.1,387.4 270.7,385.1 280.4,388.9 288.6,386.4 295.7,388.4 300.9,388.2 306,386.1 312.1,387.4 316.2,388.6 321.3,385.1" fill="none" stroke="#3a7b98" stroke-width="0.75" stroke-linejoin="round"/>
<rect x="290.3" y="429.05" width="38.4" height="19.8" fill="#ffffff" stroke="#dddddd" stroke-width="0.5" fill-opacity="0.85" rx="0.8"/>
<line x1="292" y1="433.05" x2="300.5" y2="433.05" stroke="#3a78ad" stroke-width="0.9" />
<rect x="292" y="437.75" width="8.5" height="2.8" fill="#badcf0" stroke="#a9c8e0" stroke-width="0.3" />
<line x1="292" y1="444.75" x2="300.5" y2="444.75" stroke="#c6c6c6" stroke-width="0.6" stroke-dasharray="1.6,1.4"/>
<text x="303.9" y="434.65" font-size="4.6" stroke="#1a1a1a" stroke-width="0.08" textLength="11.4" lengthAdjust="spacing">Mean</text>
<text x="303.9" y="440.65" font-size="4.6" stroke="#1a1a1a" stroke-width="0.08" textLength="22.2" lengthAdjust="spacing">25-75 %ile</text>
<text x="303.9" y="446.35" font-size="4.6" stroke="#1a1a1a" stroke-width="0.08" textLength="18.8" lengthAdjust="spacing">midnight</text>
<rect x="193.5" y="360.7" width="137" height="90.35" fill="none" stroke="#7c7c7c" stroke-width="1" />
<line x1="199.71" y1="451.55" x2="199.71" y2="452.85" stroke="#333333" stroke-width="0.7" />
<text x="199.71" y="457.45" font-size="4.7" text-anchor="middle" stroke="#1a1a1a" stroke-width="0.1" textLength="2.6" lengthAdjust="spacingAndGlyphs">0</text>
<line x1="225.06" y1="451.55" x2="225.06" y2="452.85" stroke="#333333" stroke-width="0.7" />
<text x="225.06" y="457.45" font-size="4.7" text-anchor="middle" stroke="#1a1a1a" stroke-width="0.1" textLength="5.2" lengthAdjust="spacingAndGlyphs">10</text>
<line x1="250.4" y1="451.55" x2="250.4" y2="452.85" stroke="#333333" stroke-width="0.7" />
<text x="250.4" y="457.45" font-size="4.7" text-anchor="middle" stroke="#1a1a1a" stroke-width="0.1" textLength="5.2" lengthAdjust="spacingAndGlyphs">20</text>
<line x1="275.75" y1="451.55" x2="275.75" y2="452.85" stroke="#333333" stroke-width="0.7" />
<text x="275.75" y="457.45" font-size="4.7" text-anchor="middle" stroke="#1a1a1a" stroke-width="0.1" textLength="5.2" lengthAdjust="spacingAndGlyphs">30</text>
<line x1="301.1" y1="451.55" x2="301.1" y2="452.85" stroke="#333333" stroke-width="0.7" />
<text x="301.1" y="457.45" font-size="4.7" text-anchor="middle" stroke="#1a1a1a" stroke-width="0.1" textLength="5.2" lengthAdjust="spacingAndGlyphs">40</text>
<line x1="326.44" y1="451.55" x2="326.44" y2="452.85" stroke="#333333" stroke-width="0.7" />
<text x="326.44" y="457.45" font-size="4.7" text-anchor="middle" stroke="#1a1a1a" stroke-width="0.1" textLength="5.2" lengthAdjust="spacingAndGlyphs">50</text>
<text x="262" y="462.95" font-size="4.8" text-anchor="middle" stroke="#1a1a1a" stroke-width="0.1" textLength="18.2" lengthAdjust="spacingAndGlyphs">Time [h]</text>
<text x="262" y="358.7" font-size="5.75" text-anchor="middle" stroke="#1a1a1a" stroke-width="0.14" textLength="119.5" lengthAdjust="spacing">Positive 7 days directly before test: 83 samples</text>
<line x1="50.7" y1="451.05" x2="52" y2="451.05" stroke="#333333" stroke-width="0.7" />
<text x="49.7" y="453.05" font-size="4.7" text-anchor="end" stroke="#1a1a1a" stroke-width="0.1" textLength="2.6" lengthAdjust="spacingAndGlyphs">0</text>
<line x1="50.7" y1="432.98" x2="52" y2="432.98" stroke="#333333" stroke-width="0.7" />
<text x="49.7" y="434.98" font-size="4.7" text-anchor="end" stroke="#1a1a1a" stroke-width="0.1" textLength="5.2" lengthAdjust="spacingAndGlyphs">20</text>
<line x1="50.7" y1="414.91" x2="52" y2="414.91" stroke="#333333" stroke-width="0.7" />
<text x="49.7" y="416.91" font-size="4.7" text-anchor="end" stroke="#1a1a1a" stroke-width="0.1" textLength="5.2" lengthAdjust="spacingAndGlyphs">40</text>
<line x1="50.7" y1="396.84" x2="52" y2="396.84" stroke="#333333" stroke-width="0.7" />
<text x="49.7" y="398.84" font-size="4.7" text-anchor="end" stroke="#1a1a1a" stroke-width="0.1" textLength="5.2" lengthAdjust="spacingAndGlyphs">60</text>
<line x1="50.7" y1="378.77" x2="52" y2="378.77" stroke="#333333" stroke-width="0.7" />
<text x="49.7" y="380.77" font-size="4.7" text-anchor="end" stroke="#1a1a1a" stroke-width="0.1" textLength="5.2" lengthAdjust="spacingAndGlyphs">80</text>
<line x1="50.7" y1="360.7" x2="52" y2="360.7" stroke="#333333" stroke-width="0.7" />
<text x="49.7" y="362.7" font-size="4.7" text-anchor="end" stroke="#1a1a1a" stroke-width="0.1" textLength="7.9" lengthAdjust="spacingAndGlyphs">100</text>
<text x="38.6" y="405.88" font-size="4.5" text-anchor="middle" stroke="#1a1a1a" stroke-width="0.1" textLength="23" lengthAdjust="spacing" transform="rotate(-90 38.6 405.88)">RHR [bpm]</text>
<text x="23.2" y="369.8" font-size="16" fill="#000" font-weight="bold">c</text>
<line x1="400.23" y1="296.22" x2="400.23" y2="224.03" stroke="#c6c6c6" stroke-width="0.6" stroke-dasharray="2,1.3"/>
<line x1="418.02" y1="296.22" x2="418.02" y2="224.03" stroke="#c6c6c6" stroke-width="0.6" stroke-dasharray="2,1.3"/>
<line x1="435.82" y1="296.22" x2="435.82" y2="224.03" stroke="#c6c6c6" stroke-width="0.6" stroke-dasharray="2,1.3"/>
<line x1="453.61" y1="296.22" x2="453.61" y2="224.03" stroke="#c6c6c6" stroke-width="0.6" stroke-dasharray="2,1.3"/>
<line x1="471.41" y1="296.22" x2="471.41" y2="224.03" stroke="#c6c6c6" stroke-width="0.6" stroke-dasharray="2,1.3"/>
<line x1="489.2" y1="296.22" x2="489.2" y2="224.03" stroke="#c6c6c6" stroke-width="0.6" stroke-dasharray="2,1.3"/>
<line x1="507" y1="296.22" x2="507" y2="224.03" stroke="#c6c6c6" stroke-width="0.6" stroke-dasharray="2,1.3"/>
<line x1="524.79" y1="296.22" x2="524.79" y2="224.03" stroke="#c6c6c6" stroke-width="0.6" stroke-dasharray="2,1.3"/>
<polygon points="400.3,239.8 404.2,241.9 410.4,245.4 413.4,245.4 418,239.3 422.6,241.3 427.7,244.9 432.8,244.9 435.9,242.4 441,244.4 449.2,245.4 453.8,241.3 459.4,242.9 464,243.9 467.1,245.4 471.2,238.8 475.3,241.3 482.4,243.4 486.5,241.9 489.6,238.1 493.7,239.3 498.8,243.9 502.9,241.3 507.5,238.3 513.1,239.8 518.2,241.3 522.3,243.9 522.3,251.1 517.2,253.6 509,250.5 504.9,251.6 499.8,253.6 490.6,251.1 486.5,254.6 478.3,253.1 471.7,251.1 466.1,255.1 462,254.1 454.3,251.1 451.2,253.1 445.1,252.6 435.9,249.5 433.9,254.1 427.7,252.6 418,249.5 413.4,253.6 400.3,249.5" fill="#1683c8" fill-opacity="0.27"/>
<polyline points="400.3,244.2 409.3,248.5 413.4,249.5 418,244.2 420.6,244.9 427.7,249 435.9,245.4 442,248 451.2,248.5 453.8,245.4 457.4,247 462,248.3 466.1,249 471.7,245.2 477.3,248.3 486.5,248.3 489.6,244.9 493.7,246 499.8,248.3 503.9,247.3 507.5,244.4 513.1,246 522.3,247" fill="none" stroke="#3a7b98" stroke-width="0.75" stroke-linejoin="round"/>
<rect x="491.2" y="283.3" width="38.4" height="19.8" fill="#ffffff" stroke="#dddddd" stroke-width="0.5" fill-opacity="0.85" rx="0.8"/>
<line x1="492.9" y1="287.3" x2="501.4" y2="287.3" stroke="#3a78ad" stroke-width="0.9" />
<rect x="492.9" y="292" width="8.5" height="2.8" fill="#badcf0" stroke="#a9c8e0" stroke-width="0.3" />
<line x1="492.9" y1="299" x2="501.4" y2="299" stroke="#c6c6c6" stroke-width="0.6" stroke-dasharray="1.6,1.4"/>
<text x="504.8" y="288.9" font-size="4.6" stroke="#1a1a1a" stroke-width="0.08" textLength="11.4" lengthAdjust="spacing">Mean</text>
<text x="504.8" y="294.9" font-size="4.6" stroke="#1a1a1a" stroke-width="0.08" textLength="22.2" lengthAdjust="spacing">25-75 %ile</text>
<text x="504.8" y="300.6" font-size="4.6" stroke="#1a1a1a" stroke-width="0.08" textLength="18.8" lengthAdjust="spacing">midnight</text>
<rect x="394" y="214.5" width="137.4" height="90.8" fill="none" stroke="#7c7c7c" stroke-width="1" />
<line x1="400.23" y1="305.8" x2="400.23" y2="307.1" stroke="#333333" stroke-width="0.7" />
<text x="400.23" y="311.7" font-size="4.7" text-anchor="middle" stroke="#1a1a1a" stroke-width="0.1" textLength="2.6" lengthAdjust="spacingAndGlyphs">0</text>
<line x1="425.65" y1="305.8" x2="425.65" y2="307.1" stroke="#333333" stroke-width="0.7" />
<text x="425.65" y="311.7" font-size="4.7" text-anchor="middle" stroke="#1a1a1a" stroke-width="0.1" textLength="5.2" lengthAdjust="spacingAndGlyphs">10</text>
<line x1="451.07" y1="305.8" x2="451.07" y2="307.1" stroke="#333333" stroke-width="0.7" />
<text x="451.07" y="311.7" font-size="4.7" text-anchor="middle" stroke="#1a1a1a" stroke-width="0.1" textLength="5.2" lengthAdjust="spacingAndGlyphs">20</text>
<line x1="476.49" y1="305.8" x2="476.49" y2="307.1" stroke="#333333" stroke-width="0.7" />
<text x="476.49" y="311.7" font-size="4.7" text-anchor="middle" stroke="#1a1a1a" stroke-width="0.1" textLength="5.2" lengthAdjust="spacingAndGlyphs">30</text>
<line x1="501.91" y1="305.8" x2="501.91" y2="307.1" stroke="#333333" stroke-width="0.7" />
<text x="501.91" y="311.7" font-size="4.7" text-anchor="middle" stroke="#1a1a1a" stroke-width="0.1" textLength="5.2" lengthAdjust="spacingAndGlyphs">40</text>
<line x1="527.33" y1="305.8" x2="527.33" y2="307.1" stroke="#333333" stroke-width="0.7" />
<text x="527.33" y="311.7" font-size="4.7" text-anchor="middle" stroke="#1a1a1a" stroke-width="0.1" textLength="5.2" lengthAdjust="spacingAndGlyphs">50</text>
<text x="462.7" y="317.2" font-size="4.8" text-anchor="middle" stroke="#1a1a1a" stroke-width="0.1" textLength="18.2" lengthAdjust="spacingAndGlyphs">Time [h]</text>
<text x="462.7" y="212.4" font-size="5.75" text-anchor="middle" stroke="#1a1a1a" stroke-width="0.14" textLength="124.1" lengthAdjust="spacing">Negative 7 days directly before test: 38 samples</text>
<line x1="542.23" y1="296.22" x2="542.23" y2="224.03" stroke="#c6c6c6" stroke-width="0.6" stroke-dasharray="2,1.3"/>
<line x1="560.02" y1="296.22" x2="560.02" y2="224.03" stroke="#c6c6c6" stroke-width="0.6" stroke-dasharray="2,1.3"/>
<line x1="577.82" y1="296.22" x2="577.82" y2="224.03" stroke="#c6c6c6" stroke-width="0.6" stroke-dasharray="2,1.3"/>
<line x1="595.61" y1="296.22" x2="595.61" y2="224.03" stroke="#c6c6c6" stroke-width="0.6" stroke-dasharray="2,1.3"/>
<line x1="613.41" y1="296.22" x2="613.41" y2="224.03" stroke="#c6c6c6" stroke-width="0.6" stroke-dasharray="2,1.3"/>
<line x1="631.2" y1="296.22" x2="631.2" y2="224.03" stroke="#c6c6c6" stroke-width="0.6" stroke-dasharray="2,1.3"/>
<line x1="649" y1="296.22" x2="649" y2="224.03" stroke="#c6c6c6" stroke-width="0.6" stroke-dasharray="2,1.3"/>
<line x1="666.79" y1="296.22" x2="666.79" y2="224.03" stroke="#c6c6c6" stroke-width="0.6" stroke-dasharray="2,1.3"/>
<polygon points="542.3,242.4 546.2,246.5 551.3,243.9 556.4,240.8 562.5,240.8 566.7,244.9 570.7,246.5 574.8,243.9 577.9,240.3 583,243.4 589.1,245.4 595.3,243.4 601.4,245.4 606,246.5 610.1,242.9 613.7,239.3 618.3,241.3 628.5,241.9 631.6,238.8 636.7,241.3 644.9,243.4 647.9,240.3 653,242.4 659.2,243.9 662.2,240.3 664.3,242.4 664.3,254.1 657.1,255.1 650,253.1 644.9,254.1 637.7,254.1 631.6,250.5 628.5,252.6 619.3,252.1 613.7,250 610.1,253.1 606,254.1 601.4,253.6 595.3,251.1 588.1,254.1 582,251.1 576.9,250.5 572.8,255.1 565.6,252.1 559.5,251.1 551.3,254.1 542.3,251.6" fill="#1683c8" fill-opacity="0.27"/>
<polyline points="542.3,245.4 545.2,248.5 551.3,249.5 554.4,249 560,244.9 565.6,247 570.7,250 575.9,248 577.9,244.2 582,245.4 588.1,249 595.8,245.9 601.4,248.5 606,249.5 610.1,248 613.7,244.2 619.3,246.5 628.5,247 631.6,243.4 636.7,246.5 644.9,247.3 649.5,244.4 655.1,246 659.7,248.5 664.3,247.3" fill="none" stroke="#3a7b98" stroke-width="0.75" stroke-linejoin="round"/>
<rect x="633.2" y="283.3" width="38.4" height="19.8" fill="#ffffff" stroke="#dddddd" stroke-width="0.5" fill-opacity="0.85" rx="0.8"/>
<line x1="634.9" y1="287.3" x2="643.4" y2="287.3" stroke="#3a78ad" stroke-width="0.9" />
<rect x="634.9" y="292" width="8.5" height="2.8" fill="#badcf0" stroke="#a9c8e0" stroke-width="0.3" />
<line x1="634.9" y1="299" x2="643.4" y2="299" stroke="#c6c6c6" stroke-width="0.6" stroke-dasharray="1.6,1.4"/>
<text x="646.8" y="288.9" font-size="4.6" stroke="#1a1a1a" stroke-width="0.08" textLength="11.4" lengthAdjust="spacing">Mean</text>
<text x="646.8" y="294.9" font-size="4.6" stroke="#1a1a1a" stroke-width="0.08" textLength="22.2" lengthAdjust="spacing">25-75 %ile</text>
<text x="646.8" y="300.6" font-size="4.6" stroke="#1a1a1a" stroke-width="0.08" textLength="18.8" lengthAdjust="spacing">midnight</text>
<rect x="536" y="214.5" width="137.4" height="90.8" fill="none" stroke="#7c7c7c" stroke-width="1" />
<line x1="542.23" y1="305.8" x2="542.23" y2="307.1" stroke="#333333" stroke-width="0.7" />
<text x="542.23" y="311.7" font-size="4.7" text-anchor="middle" stroke="#1a1a1a" stroke-width="0.1" textLength="2.6" lengthAdjust="spacingAndGlyphs">0</text>
<line x1="567.65" y1="305.8" x2="567.65" y2="307.1" stroke="#333333" stroke-width="0.7" />
<text x="567.65" y="311.7" font-size="4.7" text-anchor="middle" stroke="#1a1a1a" stroke-width="0.1" textLength="5.2" lengthAdjust="spacingAndGlyphs">10</text>
<line x1="593.07" y1="305.8" x2="593.07" y2="307.1" stroke="#333333" stroke-width="0.7" />
<text x="593.07" y="311.7" font-size="4.7" text-anchor="middle" stroke="#1a1a1a" stroke-width="0.1" textLength="5.2" lengthAdjust="spacingAndGlyphs">20</text>
<line x1="618.49" y1="305.8" x2="618.49" y2="307.1" stroke="#333333" stroke-width="0.7" />
<text x="618.49" y="311.7" font-size="4.7" text-anchor="middle" stroke="#1a1a1a" stroke-width="0.1" textLength="5.2" lengthAdjust="spacingAndGlyphs">30</text>
<line x1="643.91" y1="305.8" x2="643.91" y2="307.1" stroke="#333333" stroke-width="0.7" />
<text x="643.91" y="311.7" font-size="4.7" text-anchor="middle" stroke="#1a1a1a" stroke-width="0.1" textLength="5.2" lengthAdjust="spacingAndGlyphs">40</text>
<line x1="669.33" y1="305.8" x2="669.33" y2="307.1" stroke="#333333" stroke-width="0.7" />
<text x="669.33" y="311.7" font-size="4.7" text-anchor="middle" stroke="#1a1a1a" stroke-width="0.1" textLength="5.2" lengthAdjust="spacingAndGlyphs">50</text>
<text x="604.7" y="317.2" font-size="4.8" text-anchor="middle" stroke="#1a1a1a" stroke-width="0.1" textLength="18.2" lengthAdjust="spacingAndGlyphs">Time [h]</text>
<text x="604.7" y="212.4" font-size="5.75" text-anchor="middle" stroke="#1a1a1a" stroke-width="0.14" textLength="120.4" lengthAdjust="spacing">Positive 7 days directly before test: 38 samples</text>
<line x1="392.2" y1="305.3" x2="393.5" y2="305.3" stroke="#333333" stroke-width="0.7" />
<text x="391.2" y="307.3" font-size="4.7" text-anchor="end" stroke="#1a1a1a" stroke-width="0.1" textLength="2.6" lengthAdjust="spacingAndGlyphs">0</text>
<line x1="392.2" y1="287.14" x2="393.5" y2="287.14" stroke="#333333" stroke-width="0.7" />
<text x="391.2" y="289.14" font-size="4.7" text-anchor="end" stroke="#1a1a1a" stroke-width="0.1" textLength="5.2" lengthAdjust="spacingAndGlyphs">20</text>
<line x1="392.2" y1="268.98" x2="393.5" y2="268.98" stroke="#333333" stroke-width="0.7" />
<text x="391.2" y="270.98" font-size="4.7" text-anchor="end" stroke="#1a1a1a" stroke-width="0.1" textLength="5.2" lengthAdjust="spacingAndGlyphs">40</text>
<line x1="392.2" y1="250.82" x2="393.5" y2="250.82" stroke="#333333" stroke-width="0.7" />
<text x="391.2" y="252.82" font-size="4.7" text-anchor="end" stroke="#1a1a1a" stroke-width="0.1" textLength="5.2" lengthAdjust="spacingAndGlyphs">60</text>
<line x1="392.2" y1="232.66" x2="393.5" y2="232.66" stroke="#333333" stroke-width="0.7" />
<text x="391.2" y="234.66" font-size="4.7" text-anchor="end" stroke="#1a1a1a" stroke-width="0.1" textLength="5.2" lengthAdjust="spacingAndGlyphs">80</text>
<line x1="392.2" y1="214.5" x2="393.5" y2="214.5" stroke="#333333" stroke-width="0.7" />
<text x="391.2" y="216.5" font-size="4.7" text-anchor="end" stroke="#1a1a1a" stroke-width="0.1" textLength="7.9" lengthAdjust="spacingAndGlyphs">100</text>
<text x="380.1" y="259.9" font-size="4.5" text-anchor="middle" stroke="#1a1a1a" stroke-width="0.1" textLength="23" lengthAdjust="spacing" transform="rotate(-90 380.1 259.9)">RHR [bpm]</text>
<text x="350.5" y="226.8" font-size="16" fill="#000" font-weight="bold">e</text>
<line x1="400.23" y1="439.72" x2="400.23" y2="367.53" stroke="#c6c6c6" stroke-width="0.6" stroke-dasharray="2,1.3"/>
<line x1="418.02" y1="439.72" x2="418.02" y2="367.53" stroke="#c6c6c6" stroke-width="0.6" stroke-dasharray="2,1.3"/>
<line x1="435.82" y1="439.72" x2="435.82" y2="367.53" stroke="#c6c6c6" stroke-width="0.6" stroke-dasharray="2,1.3"/>
<line x1="453.61" y1="439.72" x2="453.61" y2="367.53" stroke="#c6c6c6" stroke-width="0.6" stroke-dasharray="2,1.3"/>
<line x1="471.41" y1="439.72" x2="471.41" y2="367.53" stroke="#c6c6c6" stroke-width="0.6" stroke-dasharray="2,1.3"/>
<line x1="489.2" y1="439.72" x2="489.2" y2="367.53" stroke="#c6c6c6" stroke-width="0.6" stroke-dasharray="2,1.3"/>
<line x1="507" y1="439.72" x2="507" y2="367.53" stroke="#c6c6c6" stroke-width="0.6" stroke-dasharray="2,1.3"/>
<line x1="524.79" y1="439.72" x2="524.79" y2="367.53" stroke="#c6c6c6" stroke-width="0.6" stroke-dasharray="2,1.3"/>
<polygon points="400.12,379.91 405.03,378.1 411.55,379.91 416.57,380.41 423.59,379.71 429.6,380.21 433.62,378.7 439.63,378.7 445.65,379.91 451.67,378.4 457.69,379.71 463.7,380.41 467.81,382.72 471.43,377.6 477.04,380.21 489.38,378.6 497.6,380.21 506.83,377.09 509.84,379.71 513.95,375.59 519.06,378.1 522.17,377.09 522.17,391.77 516.86,392.17 509.84,391.77 501.81,391.57 493.79,392.37 486.77,391.77 478.75,391.97 471.73,390.16 467.71,391.97 459.69,391.77 451.67,391.16 446.75,393.17 441.64,391.37 433.62,390.66 426.59,391.67 417.57,391.16 412.96,393.17 406.54,391.37 400.12,390.66" fill="#1683c8" fill-opacity="0.27"/>
<polyline points="400.12,384.83 406.84,385.34 412.96,387.35 416.06,385.34 424.29,385.34 429.4,386.04 434.52,384.33 439.63,384.83 446.75,386.84 451.87,384.83 458.09,385.03 463.7,386.84 467.81,386.34 471.43,383.23 477.04,384.83 484.26,386.04 489.38,383.73 497.6,385.84 504.72,383.73 513.95,383.73 517.56,386.04 522.17,383.73" fill="none" stroke="#3a7b98" stroke-width="0.75" stroke-linejoin="round"/>
<rect x="491.2" y="426.8" width="38.4" height="19.8" fill="#ffffff" stroke="#dddddd" stroke-width="0.5" fill-opacity="0.85" rx="0.8"/>
<line x1="492.9" y1="430.8" x2="501.4" y2="430.8" stroke="#3a78ad" stroke-width="0.9" />
<rect x="492.9" y="435.5" width="8.5" height="2.8" fill="#badcf0" stroke="#a9c8e0" stroke-width="0.3" />
<line x1="492.9" y1="442.5" x2="501.4" y2="442.5" stroke="#c6c6c6" stroke-width="0.6" stroke-dasharray="1.6,1.4"/>
<text x="504.8" y="432.4" font-size="4.6" stroke="#1a1a1a" stroke-width="0.08" textLength="11.4" lengthAdjust="spacing">Mean</text>
<text x="504.8" y="438.4" font-size="4.6" stroke="#1a1a1a" stroke-width="0.08" textLength="22.2" lengthAdjust="spacing">25-75 %ile</text>
<text x="504.8" y="444.1" font-size="4.6" stroke="#1a1a1a" stroke-width="0.08" textLength="18.8" lengthAdjust="spacing">midnight</text>
<rect x="394" y="358" width="137.4" height="90.8" fill="none" stroke="#7c7c7c" stroke-width="1" />
<line x1="400.23" y1="449.3" x2="400.23" y2="450.6" stroke="#333333" stroke-width="0.7" />
<text x="400.23" y="455.2" font-size="4.7" text-anchor="middle" stroke="#1a1a1a" stroke-width="0.1" textLength="2.6" lengthAdjust="spacingAndGlyphs">0</text>
<line x1="425.65" y1="449.3" x2="425.65" y2="450.6" stroke="#333333" stroke-width="0.7" />
<text x="425.65" y="455.2" font-size="4.7" text-anchor="middle" stroke="#1a1a1a" stroke-width="0.1" textLength="5.2" lengthAdjust="spacingAndGlyphs">10</text>
<line x1="451.07" y1="449.3" x2="451.07" y2="450.6" stroke="#333333" stroke-width="0.7" />
<text x="451.07" y="455.2" font-size="4.7" text-anchor="middle" stroke="#1a1a1a" stroke-width="0.1" textLength="5.2" lengthAdjust="spacingAndGlyphs">20</text>
<line x1="476.49" y1="449.3" x2="476.49" y2="450.6" stroke="#333333" stroke-width="0.7" />
<text x="476.49" y="455.2" font-size="4.7" text-anchor="middle" stroke="#1a1a1a" stroke-width="0.1" textLength="5.2" lengthAdjust="spacingAndGlyphs">30</text>
<line x1="501.91" y1="449.3" x2="501.91" y2="450.6" stroke="#333333" stroke-width="0.7" />
<text x="501.91" y="455.2" font-size="4.7" text-anchor="middle" stroke="#1a1a1a" stroke-width="0.1" textLength="5.2" lengthAdjust="spacingAndGlyphs">40</text>
<line x1="527.33" y1="449.3" x2="527.33" y2="450.6" stroke="#333333" stroke-width="0.7" />
<text x="527.33" y="455.2" font-size="4.7" text-anchor="middle" stroke="#1a1a1a" stroke-width="0.1" textLength="5.2" lengthAdjust="spacingAndGlyphs">50</text>
<text x="462.7" y="460.7" font-size="4.8" text-anchor="middle" stroke="#1a1a1a" stroke-width="0.1" textLength="18.2" lengthAdjust="spacingAndGlyphs">Time [h]</text>
<text x="462.7" y="356" font-size="5.75" text-anchor="middle" stroke="#1a1a1a" stroke-width="0.14" textLength="124.1" lengthAdjust="spacing">Negative 7 days directly before test: 83 samples</text>
<line x1="542.23" y1="439.72" x2="542.23" y2="367.53" stroke="#c6c6c6" stroke-width="0.6" stroke-dasharray="2,1.3"/>
<line x1="560.02" y1="439.72" x2="560.02" y2="367.53" stroke="#c6c6c6" stroke-width="0.6" stroke-dasharray="2,1.3"/>
<line x1="577.82" y1="439.72" x2="577.82" y2="367.53" stroke="#c6c6c6" stroke-width="0.6" stroke-dasharray="2,1.3"/>
<line x1="595.61" y1="439.72" x2="595.61" y2="367.53" stroke="#c6c6c6" stroke-width="0.6" stroke-dasharray="2,1.3"/>
<line x1="613.41" y1="439.72" x2="613.41" y2="367.53" stroke="#c6c6c6" stroke-width="0.6" stroke-dasharray="2,1.3"/>
<line x1="631.2" y1="439.72" x2="631.2" y2="367.53" stroke="#c6c6c6" stroke-width="0.6" stroke-dasharray="2,1.3"/>
<line x1="649" y1="439.72" x2="649" y2="367.53" stroke="#c6c6c6" stroke-width="0.6" stroke-dasharray="2,1.3"/>
<line x1="666.79" y1="439.72" x2="666.79" y2="367.53" stroke="#c6c6c6" stroke-width="0.6" stroke-dasharray="2,1.3"/>
<polygon points="542.52,376.59 548.84,377.6 553.95,379.21 558.06,376.39 560.07,378.6 570.3,380.71 578.02,377.09 580.63,379.71 587.75,380.21 595.97,377.6 602.09,378.1 603.7,378.1 611.92,376.79 622.15,380.21 631.38,378.6 638.5,380.21 646.72,378.6 656.95,379.21 664.17,377.6 664.17,389.46 654.95,391.97 648.83,390.96 639.6,392.47 631.38,391.47 624.16,392.97 613.93,390.46 603.7,392.97 602.09,392.97 593.87,391.97 586.75,392.97 578.52,389.96 575.41,394.08 566.29,392.47 559.07,390.96 554.96,394.58 542.52,391.47" fill="#1683c8" fill-opacity="0.27"/>
<polyline points="542.52,383.83 548.54,384.73 554.96,386.04 558.06,383.83 562.18,384.03 570.3,385.84 574.41,385.34 578.02,383.53 582.64,384.83 587.75,386.84 590.86,385.64 593.37,386.04 596.48,382.72 602.09,384.63 603.7,384.83 608.81,384.83 613.43,382.52 623.15,386.34 631.38,383.83 638.5,385.84 643.71,385.64 648.83,383.53 654.95,384.83 659.06,386.04 664.17,382.52" fill="none" stroke="#3a7b98" stroke-width="0.75" stroke-linejoin="round"/>
<rect x="633.2" y="426.8" width="38.4" height="19.8" fill="#ffffff" stroke="#dddddd" stroke-width="0.5" fill-opacity="0.85" rx="0.8"/>
<line x1="634.9" y1="430.8" x2="643.4" y2="430.8" stroke="#3a78ad" stroke-width="0.9" />
<rect x="634.9" y="435.5" width="8.5" height="2.8" fill="#badcf0" stroke="#a9c8e0" stroke-width="0.3" />
<line x1="634.9" y1="442.5" x2="643.4" y2="442.5" stroke="#c6c6c6" stroke-width="0.6" stroke-dasharray="1.6,1.4"/>
<text x="646.8" y="432.4" font-size="4.6" stroke="#1a1a1a" stroke-width="0.08" textLength="11.4" lengthAdjust="spacing">Mean</text>
<text x="646.8" y="438.4" font-size="4.6" stroke="#1a1a1a" stroke-width="0.08" textLength="22.2" lengthAdjust="spacing">25-75 %ile</text>
<text x="646.8" y="444.1" font-size="4.6" stroke="#1a1a1a" stroke-width="0.08" textLength="18.8" lengthAdjust="spacing">midnight</text>
<rect x="536" y="358" width="137.4" height="90.8" fill="none" stroke="#7c7c7c" stroke-width="1" />
<line x1="542.23" y1="449.3" x2="542.23" y2="450.6" stroke="#333333" stroke-width="0.7" />
<text x="542.23" y="455.2" font-size="4.7" text-anchor="middle" stroke="#1a1a1a" stroke-width="0.1" textLength="2.6" lengthAdjust="spacingAndGlyphs">0</text>
<line x1="567.65" y1="449.3" x2="567.65" y2="450.6" stroke="#333333" stroke-width="0.7" />
<text x="567.65" y="455.2" font-size="4.7" text-anchor="middle" stroke="#1a1a1a" stroke-width="0.1" textLength="5.2" lengthAdjust="spacingAndGlyphs">10</text>
<line x1="593.07" y1="449.3" x2="593.07" y2="450.6" stroke="#333333" stroke-width="0.7" />
<text x="593.07" y="455.2" font-size="4.7" text-anchor="middle" stroke="#1a1a1a" stroke-width="0.1" textLength="5.2" lengthAdjust="spacingAndGlyphs">20</text>
<line x1="618.49" y1="449.3" x2="618.49" y2="450.6" stroke="#333333" stroke-width="0.7" />
<text x="618.49" y="455.2" font-size="4.7" text-anchor="middle" stroke="#1a1a1a" stroke-width="0.1" textLength="5.2" lengthAdjust="spacingAndGlyphs">30</text>
<line x1="643.91" y1="449.3" x2="643.91" y2="450.6" stroke="#333333" stroke-width="0.7" />
<text x="643.91" y="455.2" font-size="4.7" text-anchor="middle" stroke="#1a1a1a" stroke-width="0.1" textLength="5.2" lengthAdjust="spacingAndGlyphs">40</text>
<line x1="669.33" y1="449.3" x2="669.33" y2="450.6" stroke="#333333" stroke-width="0.7" />
<text x="669.33" y="455.2" font-size="4.7" text-anchor="middle" stroke="#1a1a1a" stroke-width="0.1" textLength="5.2" lengthAdjust="spacingAndGlyphs">50</text>
<text x="604.7" y="460.7" font-size="4.8" text-anchor="middle" stroke="#1a1a1a" stroke-width="0.1" textLength="18.2" lengthAdjust="spacingAndGlyphs">Time [h]</text>
<text x="604.7" y="356" font-size="5.75" text-anchor="middle" stroke="#1a1a1a" stroke-width="0.14" textLength="120.4" lengthAdjust="spacing">Positive 7 days directly before test: 83 samples</text>
<line x1="392.2" y1="448.8" x2="393.5" y2="448.8" stroke="#333333" stroke-width="0.7" />
<text x="391.2" y="450.8" font-size="4.7" text-anchor="end" stroke="#1a1a1a" stroke-width="0.1" textLength="2.6" lengthAdjust="spacingAndGlyphs">0</text>
<line x1="392.2" y1="430.64" x2="393.5" y2="430.64" stroke="#333333" stroke-width="0.7" />
<text x="391.2" y="432.64" font-size="4.7" text-anchor="end" stroke="#1a1a1a" stroke-width="0.1" textLength="5.2" lengthAdjust="spacingAndGlyphs">20</text>
<line x1="392.2" y1="412.48" x2="393.5" y2="412.48" stroke="#333333" stroke-width="0.7" />
<text x="391.2" y="414.48" font-size="4.7" text-anchor="end" stroke="#1a1a1a" stroke-width="0.1" textLength="5.2" lengthAdjust="spacingAndGlyphs">40</text>
<line x1="392.2" y1="394.32" x2="393.5" y2="394.32" stroke="#333333" stroke-width="0.7" />
<text x="391.2" y="396.32" font-size="4.7" text-anchor="end" stroke="#1a1a1a" stroke-width="0.1" textLength="5.2" lengthAdjust="spacingAndGlyphs">60</text>
<line x1="392.2" y1="376.16" x2="393.5" y2="376.16" stroke="#333333" stroke-width="0.7" />
<text x="391.2" y="378.16" font-size="4.7" text-anchor="end" stroke="#1a1a1a" stroke-width="0.1" textLength="5.2" lengthAdjust="spacingAndGlyphs">80</text>
<line x1="392.2" y1="358" x2="393.5" y2="358" stroke="#333333" stroke-width="0.7" />
<text x="391.2" y="360" font-size="4.7" text-anchor="end" stroke="#1a1a1a" stroke-width="0.1" textLength="7.9" lengthAdjust="spacingAndGlyphs">100</text>
<text x="380.1" y="403.4" font-size="4.5" text-anchor="middle" stroke="#1a1a1a" stroke-width="0.1" textLength="23" lengthAdjust="spacing" transform="rotate(-90 380.1 403.4)">RHR [bpm]</text>
<text x="350.8" y="369.8" font-size="16" fill="#000" font-weight="bold">f</text>
</svg>
</body></html>
